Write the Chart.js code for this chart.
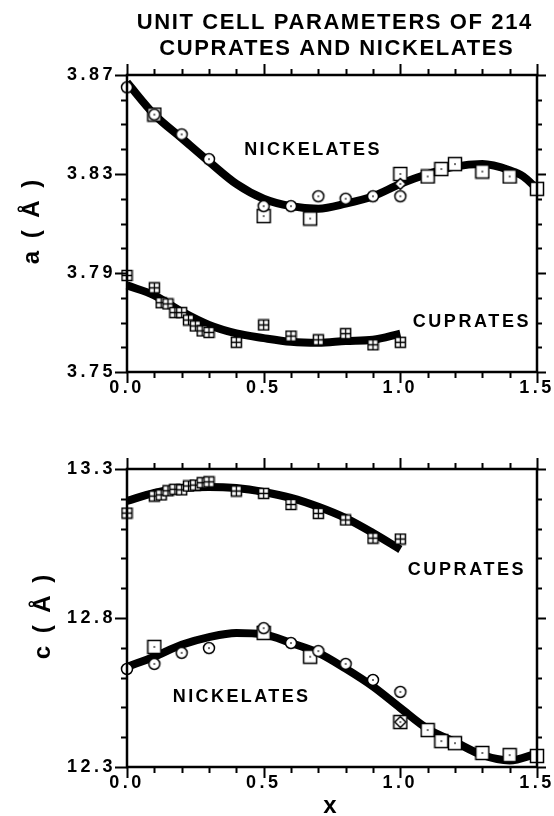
<!DOCTYPE html>
<html>
<head>
<meta charset="utf-8">
<script src="https://cdn.jsdelivr.net/npm/chart.js@4.4.1/dist/chart.umd.min.js"></script>
<style>
  body { margin: 0; background: #fff; }
  canvas { position: absolute; left: 0; }
  #gornji { top: 0; }
  #donji { top: 420px; }
</style>
</head>
<body>
<canvas id="gornji" width="554" height="420"></canvas>
<canvas id="donji" width="554" height="396"></canvas>
<script>
// Podaci - parametar a (gornji grafik)
let aNiKrugX = [0, 0.1, 0.2, 0.3, 0.5, 0.6, 0.7, 0.8, 0.9, 1.0];
let aNiKrugY = [3.865, 3.854, 3.846, 3.836, 3.817, 3.817, 3.821, 3.820, 3.821, 3.821];
let aNiKvadX = [0.1, 0.5, 0.67, 1.0, 1.1, 1.15, 1.2, 1.3, 1.4, 1.5];
let aNiKvadY = [3.854, 3.813, 3.812, 3.830, 3.829, 3.832, 3.834, 3.831, 3.829, 3.824];
let aNiRombX = [1.0];
let aNiRombY = [3.826];
let aCuX = [0, 0.1, 0.125, 0.15, 0.175, 0.2, 0.225, 0.25, 0.275, 0.3, 0.4, 0.5, 0.6, 0.7, 0.8, 0.9, 1.0];
let aCuY = [3.789, 3.784, 3.778, 3.7775, 3.774, 3.774, 3.771, 3.7686, 3.7666, 3.766, 3.762, 3.769, 3.7645, 3.763, 3.7655, 3.761, 3.762];
// fitovane krive
let aNiFitX = [0, 0.1, 0.2, 0.3, 0.4, 0.5, 0.6, 0.7, 0.8, 0.9, 1.0, 1.1, 1.2, 1.3, 1.4, 1.45, 1.5];
let aNiFitY = [3.867, 3.854, 3.8445, 3.835, 3.826, 3.820, 3.817, 3.816, 3.818, 3.821, 3.826, 3.830, 3.833, 3.834, 3.8315, 3.829, 3.824];
let aCuFitX = [0, 0.1, 0.2, 0.3, 0.4, 0.5, 0.6, 0.7, 0.8, 0.9, 1.0];
let aCuFitY = [3.785, 3.781, 3.7744, 3.769, 3.7656, 3.7637, 3.7622, 3.7618, 3.7625, 3.763, 3.7655];

// Podaci - parametar c (donji grafik)
let cCuX = [0, 0.1, 0.125, 0.15, 0.175, 0.2, 0.225, 0.25, 0.275, 0.3, 0.4, 0.5, 0.6, 0.7, 0.8, 0.9, 1.0];
let cCuY = [13.152, 13.209, 13.213, 13.227, 13.232, 13.230, 13.243, 13.246, 13.254, 13.257, 13.226, 13.218, 13.181, 13.151, 13.129, 13.068, 13.065];
let cNiKrugX = [0, 0.1, 0.2, 0.3, 0.5, 0.6, 0.7, 0.8, 0.9, 1.0];
let cNiKrugY = [12.629, 12.646, 12.683, 12.699, 12.766, 12.716, 12.689, 12.646, 12.592, 12.552];
let cNiKvadX = [0.1, 0.5, 0.67, 1.0, 1.1, 1.15, 1.2, 1.3, 1.4, 1.5];
let cNiKvadY = [12.703, 12.750, 12.670, 12.451, 12.424, 12.387, 12.380, 12.347, 12.340, 12.337];
let cNiRombX = [1.0];
let cNiRombY = [12.451];
let cCuFitX = [0, 0.1, 0.2, 0.3, 0.4, 0.5, 0.6, 0.7, 0.8, 0.9, 1.0];
let cCuFitY = [13.193, 13.220, 13.236, 13.240, 13.236, 13.223, 13.203, 13.173, 13.135, 13.085, 13.030];
let cNiFitX = [0, 0.1, 0.2, 0.3, 0.4, 0.5, 0.6, 0.7, 0.8, 0.9, 1.0, 1.1, 1.2, 1.3, 1.4, 1.5];
let cNiFitY = [12.636, 12.670, 12.710, 12.736, 12.750, 12.745, 12.716, 12.683, 12.630, 12.570, 12.498, 12.428, 12.384, 12.340, 12.322, 12.345];

// Tekstovi i podeoci
let naslov = ["UNIT CELL PARAMETERS OF 214", "CUPRATES AND NICKELATES"];
let xTicks = { min: 0, max: 1.5, step: 0.1 };
let aTicks = { min: 3.75, max: 3.87, step: 0.01 };
let cTicks = { min: 12.3, max: 13.3, step: 0.1 };

const FONT = '"Liberation Sans", Arial, sans-serif';

function tacke(xs, ys) {
    return xs.map((x, i) => ({ x: x, y: ys[i] }));
}

// Markeri (krug, kvadrat, kvadrat sa krstom, romb)
function marker(vrsta) {
    let s = vrsta === 'plus' ? 13 : 16;
    let c = document.createElement('canvas');
    c.width = s;
    c.height = s;
    let g = c.getContext('2d');
    let m = s / 2;
    g.strokeStyle = '#000';
    g.fillStyle = '#fff';
    g.lineWidth = 1.5;
    g.beginPath();
    if (vrsta === 'krug') {
        g.arc(m, m, 5.5, 0, Math.PI * 2);
    } else if (vrsta === 'kvadrat') {
        g.rect(m - 6.5, m - 6.5, 13, 13);
    } else if (vrsta === 'plus') {
        g.rect(m - 5, m - 5, 10, 10);
    } else {
        g.moveTo(m, m - 5.5);
        g.lineTo(m + 5.5, m);
        g.lineTo(m, m + 5.5);
        g.lineTo(m - 5.5, m);
        g.closePath();
    }
    g.fill();
    g.stroke();
    g.fillStyle = '#000';
    if (vrsta === 'plus') {
        g.lineWidth = 1.3;
        g.beginPath();
        g.moveTo(m, m - 5);
        g.lineTo(m, m + 5);
        g.moveTo(m - 5, m);
        g.lineTo(m + 5, m);
        g.stroke();
    } else {
        g.fillRect(m - 0.75, m - 0.75, 1.5, 1.5);
    }
    return c;
}

let mKrug = marker('krug');
let mKvad = marker('kvadrat');
let mPlus = marker('plus');
let mRomb = marker('romb');

function tacSet(xs, ys, slika) {
    return {
        type: 'scatter',
        data: tacke(xs, ys),
        pointStyle: slika,
        pointRadius: 7,
        clip: false,
        order: 1
    };
}

function fitSet(xs, ys) {
    return {
        type: 'line',
        data: tacke(xs, ys),
        showLine: true,
        borderColor: '#000',
        borderWidth: 8,
        pointRadius: 0,
        fill: false,
        clip: false,
        cubicInterpolationMode: 'monotone',
        order: 2
    };
}

function crtajTekst(ctx, str, x, y, size, razmak, rotiraj) {
    ctx.save();
    ctx.font = 'bold ' + size + 'px ' + FONT;
    ctx.letterSpacing = razmak + 'px';
    ctx.fillStyle = '#000';
    ctx.textAlign = 'center';
    ctx.textBaseline = 'middle';
    ctx.translate(x, y);
    if (rotiraj) ctx.rotate(-Math.PI / 2);
    ctx.fillText(str, razmak / 2, 0);
    ctx.restore();
}

// Plugin: okvir, podeoci na sve cetiri strane i tekstovi
const okvir = {
    id: 'okvir',
    beforeUpdate(chart) { chart.ctx.letterSpacing = '3.5px'; },
    beforeDraw(chart) { chart.ctx.letterSpacing = '3.5px'; },
    afterDraw(chart, args, opts) {
        let ctx = chart.ctx;
        let a = chart.chartArea;
        let x = chart.scales.x;
        let y = chart.scales.y;
        ctx.save();
        ctx.letterSpacing = '0px';
        ctx.strokeStyle = '#000';
        ctx.lineWidth = 2.5;
        ctx.strokeRect(a.left, a.top, a.right - a.left, a.bottom - a.top);
        ctx.lineWidth = 2;
        ctx.beginPath();
        x.ticks.forEach(t => {
            let px = Math.round(x.getPixelForValue(t.value)) + 0.5;
            let d = t.label !== '' ? 11 : 6;
            ctx.moveTo(px, a.bottom);
            ctx.lineTo(px, a.bottom + d);
            ctx.moveTo(px, a.top);
            ctx.lineTo(px, a.top - d);
        });
        y.ticks.forEach(t => {
            let py = Math.round(y.getPixelForValue(t.value)) + 0.5;
            let d = t.label !== '' ? 12 : 6;
            ctx.moveTo(a.left, py);
            ctx.lineTo(a.left - d, py);
            ctx.moveTo(a.right, py);
            ctx.lineTo(a.right + (t.label !== '' ? 9 : 5), py);
        });
        ctx.stroke();
        ctx.restore();

        (opts.natpisi || []).forEach(n => {
            crtajTekst(ctx, n.text, x.getPixelForValue(n.x), y.getPixelForValue(n.y), 18, n.razmak);
        });
        (opts.tekstovi || []).forEach(n => {
            crtajTekst(ctx, n.text, n.px, n.py, n.size, n.razmak, n.rot);
        });
    }
};

function opcije(yt, dec, natpisi, tekstovi, padTop, xVis, xPad) {
    return {
        responsive: false,
        animation: false,
        layout: { padding: { top: padTop, right: 17, left: 0, bottom: 0 } },
        plugins: {
            legend: { display: false },
            tooltip: { enabled: false },
            okvir: { natpisi: natpisi, tekstovi: tekstovi }
        },
        scales: {
            x: {
                type: 'linear',
                min: xTicks.min,
                max: xTicks.max,
                grid: { display: false, drawTicks: false },
                border: { display: false },
                ticks: {
                    stepSize: xTicks.step,
                    autoSkip: false,
                    maxRotation: 0,
                    padding: xPad,
                    color: '#000',
                    font: { family: FONT, weight: 'bold', size: 18 },
                    callback: v => Math.round(v * 10) % 5 === 0 ? v.toFixed(1) : ''
                },
                afterFit: s => { s.height = xVis; s.paddingLeft = 0; s.paddingRight = 0; }
            },
            y: {
                type: 'linear',
                min: yt.min,
                max: yt.max,
                grid: { display: false, drawTicks: false },
                border: { display: false },
                ticks: {
                    stepSize: yt.step,
                    autoSkip: false,
                    padding: 11,
                    color: '#000',
                    font: { family: FONT, weight: 'bold', size: 18 },
                    callback: v => {
                        let k = Math.round(v / yt.step);
                        let ok = dec === 2 ? k % 4 === 3 : k % 5 === 3;
                        return ok ? v.toFixed(dec) : '';
                    }
                },
                afterFit: s => { s.width = 127; s.paddingTop = 0; s.paddingBottom = 0; }
            }
        }
    };
}

// Gornji grafik (a) - krugovi prvi da bi bili iznad kvadrata
new Chart(document.getElementById('gornji'), {
    type: 'scatter',
    data: {
        datasets: [
            tacSet(aNiKrugX, aNiKrugY, mKrug),
            tacSet(aNiRombX, aNiRombY, mRomb),
            tacSet(aNiKvadX, aNiKvadY, mKvad),
            tacSet(aCuX, aCuY, mPlus),
            fitSet(aNiFitX, aNiFitY),
            fitSet(aCuFitX, aCuFitY)
        ]
    },
    options: opcije(aTicks, 2,
        [
            { text: 'NICKELATES', x: 0.676, y: 3.8397, razmak: 2.4 },
            { text: 'CUPRATES', x: 1.257, y: 3.770, razmak: 2.6 }
        ],
        [
            { text: naslov[0], px: 334, py: 23, size: 22, razmak: 1.6 },
            { text: naslov[1], px: 336, py: 49, size: 22, razmak: 1.6 },
            { text: 'a ( Å )', px: 32, py: 222, size: 24, razmak: 3, rot: true }
        ],
        75, 48, 5),
    plugins: [okvir]
});

// Donji grafik (c)
new Chart(document.getElementById('donji'), {
    type: 'scatter',
    data: {
        datasets: [
            tacSet(cNiKrugX, cNiKrugY, mKrug),
            tacSet(cNiRombX, cNiRombY, mRomb),
            tacSet(cNiKvadX, cNiKvadY, mKvad),
            tacSet(cCuX, cCuY, mPlus),
            fitSet(cCuFitX, cCuFitY),
            fitSet(cNiFitX, cNiFitY)
        ]
    },
    options: opcije(cTicks, 1,
        [
            { text: 'CUPRATES', x: 1.239, y: 12.961, razmak: 2.6 },
            { text: 'NICKELATES', x: 0.415, y: 12.535, razmak: 2.4 }
        ],
        [
            { text: 'c ( Å )', px: 43, py: 197, size: 24, razmak: 3, rot: true },
            { text: 'x', px: 330, py: 386, size: 24, razmak: 0 }
        ],
        49, 49, 5),
    plugins: [okvir]
});
</script>
</body>
</html>
